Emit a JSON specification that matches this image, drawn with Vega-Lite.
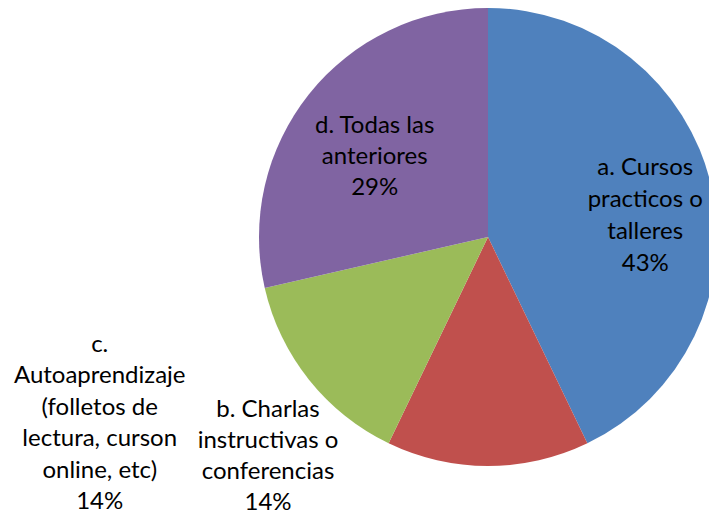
{
  "$schema": "https://vega.github.io/schema/vega-lite/v6.json",
  "autosize": "none",
  "width": 442,
  "height": 474,
  "padding": {"left": 267, "top": 0, "right": 0, "bottom": 41},
  "background": "white",
  "config": {"view": {"stroke": null}},
  "data": {
    "values": [
      {"cat": "a", "value": 3, "label": ["a. Cursos", "practicos o", "talleres", "43%"]},
      {"cat": "b", "value": 1, "label": ["b. Charlas", "instructivas o", "conferencias", "14%"]},
      {"cat": "c", "value": 1, "label": ["c.", "Autoaprendizaje", "(folletos de", "lectura, curson", "online, etc)", "14%"]},
      {"cat": "d", "value": 2, "label": ["d. Todas las", "anteriores", "29%"]}
    ]
  },
  "encoding": {
    "theta": {"field": "value", "type": "quantitative", "stack": true},
    "order": {"field": "cat", "type": "nominal", "sort": "ascending"}
  },
  "layer": [
    {
      "mark": {"type": "arc", "outerRadius": 229},
      "encoding": {
        "color": {
          "field": "cat", "type": "nominal", "legend": null,
          "scale": {"domain": ["a", "b", "c", "d"], "range": ["#4F81BD", "#C0504D", "#9BBB59", "#8064A2"]}
        }
      }
    },
    {
      "mark": {"type": "text", "radius": 150, "dx": 11, "dy": -36, "font": "Lato", "fontSize": 24, "lineHeight": 32, "color": "black", "align": "center", "baseline": "middle"},
      "encoding": {"text": {"condition": {"test": "datum.cat === 'a'", "field": "label"}, "value": ""}}
    },
    {
      "mark": {"type": "text", "radius": 150, "dx": 4, "dy": -17, "font": "Lato", "fontSize": 24, "lineHeight": 31, "color": "black", "align": "center", "baseline": "middle"},
      "encoding": {"text": {"condition": {"test": "datum.cat === 'd'", "field": "label"}, "value": ""}}
    },
    {
      "mark": {"type": "text", "radius": 150, "dx": -220, "dy": 23, "font": "Lato", "fontSize": 24, "lineHeight": 31, "color": "black", "align": "center", "baseline": "middle"},
      "encoding": {"text": {"condition": {"test": "datum.cat === 'b'", "field": "label"}, "value": ""}}
    },
    {
      "mark": {"type": "text", "radius": 150, "dx": -271, "dy": 14, "font": "Lato", "fontSize": 24, "lineHeight": 31.5, "color": "black", "align": "center", "baseline": "middle"},
      "encoding": {"text": {"condition": {"test": "datum.cat === 'c'", "field": "label"}, "value": ""}}
    }
  ]
}
